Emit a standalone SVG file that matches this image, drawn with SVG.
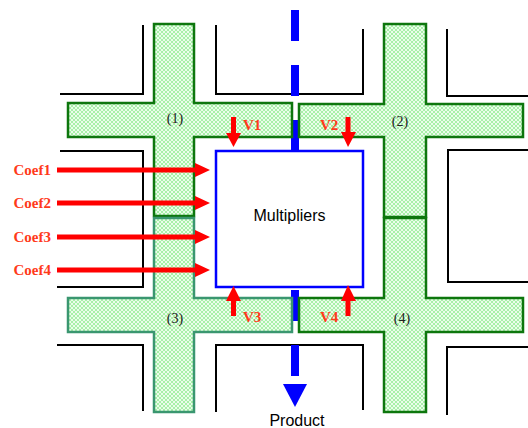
<svg xmlns="http://www.w3.org/2000/svg" width="528" height="428" viewBox="0 0 528 428">
<defs>
<pattern id="hatch" width="4" height="4" patternUnits="userSpaceOnUse">
<rect width="4" height="4" fill="#a8f0a8"/>
<path d="M0,0 L4,4 M4,0 L0,4" stroke="#f2fff2" stroke-width="0.9"/>
</pattern>
</defs>
<style>
.cross{fill:url(#hatch);stroke:#0d760d;stroke-width:2.5;stroke-linejoin:miter}
.cross3{stroke:#3a9670}
.wall{fill:none;stroke:#000;stroke-width:2}
.bus{stroke:#0000ff;stroke-width:8;stroke-dasharray:31 24;fill:none}
.arr{stroke:#ff0000;stroke-width:5;fill:none}
.head{fill:#ff0000}
.lbl{font-family:"Liberation Serif",serif;font-weight:bold;font-size:15px;fill:#ff3a1a}
.num{font-family:"Liberation Serif",serif;font-size:14px;fill:#222;text-anchor:middle}
.sans{font-family:"Liberation Sans",sans-serif;font-size:16px;fill:#000;text-anchor:middle}
</style>
<g id="walls">
<path class="wall" d="M143,25 V94 H60"/>
<path class="wall" d="M216,25 V94 H363 V29"/>
<path class="wall" d="M447,29 V96 H528"/>
<path class="wall" d="M60,151 H143 V287 H57"/>
<path class="wall" d="M528,150 H448 V282 H528"/>
<path class="wall" d="M57,345 H143 V411"/>
<path class="wall" d="M216,412 V345 H363 V410"/>
<path class="wall" d="M528,347 H447 V415"/>
</g>
<g id="connectors">
<line class="bus" x1="295" y1="10" x2="295" y2="151"/>
<line class="bus" x1="295" y1="287" x2="295" y2="377" stroke-dashoffset="-3"/>
<polygon fill="#0000ff" points="283,384 307,384 295,407"/>
</g>
<g id="cross1"><path class="cross" d="M154,24 H194 V103 H292 V137 H194 V216 H154 V137 H68 V103 H154 Z"/><text class="num" x="175" y="123">(1)</text></g>
<g id="cross2"><path class="cross" d="M384,24 H426 V104 H523 V137 H426 V217 H384 V137 H299 V104 H384 Z"/><text class="num" x="400" y="126">(2)</text></g>
<g id="cross3"><path class="cross cross3" d="M154,218 H194 V298 H292 V332 H194 V412 H154 V332 H68 V298 H154 Z"/><text class="num" x="175" y="323">(3)</text></g>
<g id="cross4"><path class="cross" d="M384,218 H426 V298 H523 V332 H426 V412 H384 V332 H299 V298 H384 Z"/><text class="num" x="402" y="323">(4)</text></g>
<g id="multipliers">
<rect x="216" y="151" width="147" height="136" fill="#fff" stroke="#0000ff" stroke-width="2.5"/>
<text class="sans" x="289.5" y="221">Multipliers</text>
</g>
<g id="arrows">
<line class="arr" x1="57" y1="170" x2="197" y2="170"/><polygon class="head" points="195,163 210,170 195,177"/>
<line class="arr" x1="57" y1="203" x2="197" y2="203"/><polygon class="head" points="195,196 210,203 195,210"/>
<line class="arr" x1="57" y1="237" x2="197" y2="237"/><polygon class="head" points="195,230 210,237 195,244"/>
<line class="arr" x1="57" y1="270" x2="197" y2="270"/><polygon class="head" points="195,263 210,270 195,277"/>
<line class="arr" x1="233.5" y1="117" x2="233.5" y2="135"/><polygon class="head" points="226,133 241,133 233.5,147"/>
<line class="arr" x1="348" y1="117" x2="348" y2="135"/><polygon class="head" points="341,132 356,132 348,147"/>
<line class="arr" x1="233.5" y1="316" x2="233.5" y2="299"/><polygon class="head" points="226,301 241,301 233.5,286"/>
<line class="arr" x1="348" y1="316" x2="348" y2="299"/><polygon class="head" points="341,301 356,301 348,285"/>
</g>
<g id="labels">
<text class="lbl" x="51" y="175" text-anchor="end">Coef1</text>
<text class="lbl" x="51" y="208" text-anchor="end">Coef2</text>
<text class="lbl" x="51" y="242" text-anchor="end">Coef3</text>
<text class="lbl" x="51" y="275" text-anchor="end">Coef4</text>
<text class="lbl" x="243" y="130">V1</text>
<text class="lbl" x="320" y="130">V2</text>
<text class="lbl" x="243" y="322">V3</text>
<text class="lbl" x="320" y="322">V4</text>
<text class="sans" x="297" y="426">Product</text>
</g>
</svg>
